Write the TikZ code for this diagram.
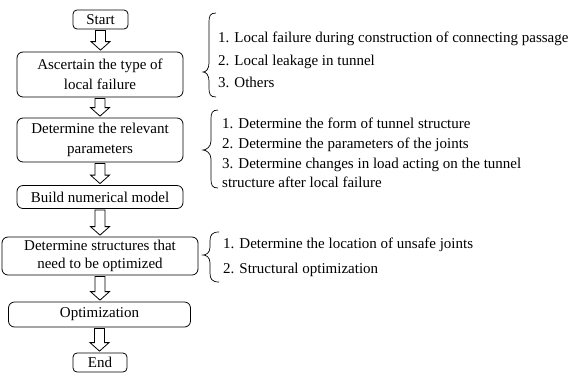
\documentclass[tikz,border=0pt]{standalone}
\usepackage{fontspec}
\setmainfont{Liberation Serif}
\usetikzlibrary{calc}
\tikzset{
  box/.style={draw, line width=0.8pt, rounded corners=6pt, align=center, inner sep=0pt,
    font=\fontsize{15}{20}\selectfont},
  smallbox/.style={box, rounded corners=4pt},
  item/.style={anchor=base west, inner sep=0pt, font=\fontsize{15}{18}\selectfont},
  bracepath/.style={line width=0.7pt},
  blockarrow/.style={to path={
    let \p1=(\tikztostart), \p2=(\tikztotarget) in
    ({\x1-5pt},{\y1-1pt}) -- ({\x1-5pt},{\y2+10pt}) -- ({\x1-9.5pt},{\y2+10pt}) -- ({\x1},{\y2+1.5pt})
    -- ({\x1+9.5pt},{\y2+10pt}) -- ({\x1+5pt},{\y2+10pt}) -- ({\x1+5pt},{\y1-1pt}) -- cycle}},
  hollow/.style={draw, line width=0.8pt, line join=miter}
}
\begin{document}
\begin{tikzpicture}[x=1pt,y=-1pt]
\useasboundingbox (0,0) rectangle (577,376);
% boxes
\node[smallbox, minimum width=55pt, minimum height=19pt] (start) at (100.5,19.5) {Start};
\node[box, minimum width=166pt, minimum height=45pt] (asc) at (100,74.5) {Ascertain the type of\\local failure};
\node[box, minimum width=166pt, minimum height=44pt] (param) at (100,140) {Determine the relevant\\parameters};
\node[box, minimum width=166pt, minimum height=23pt] (build) at (100,197) {Build numerical model};
\node[box, minimum width=196pt, minimum height=38pt, font=\fontsize{15}{18}\selectfont] (struct) at (100,256) {Determine structures that\\need to be optimized};
\node[box, minimum width=182pt, minimum height=25pt] (opt) at (99.5,314.5) {Optimization};
\node[smallbox, minimum width=54pt, minimum height=19pt] (end) at (100,362.5) {End};
% hollow arrows
\draw[hollow] (start.south) to[blockarrow] (asc.north);
\draw[hollow] (asc.south) to[blockarrow] (param.north);
\draw[hollow] (param.south) to[blockarrow] (build.north);
\draw[hollow] (build.south) to[blockarrow] (struct.north);
\draw[hollow] (struct.south) to[blockarrow] (opt.north);
\draw[hollow] (opt.south) to[blockarrow] (end.north);
% brace 1
\draw[bracepath] (216,13) .. controls (210,13) and (209,16) .. (209,22) -- (209,63)
  .. controls (209,69) and (206,72) .. (203,72) .. controls (206,72) and (209,75) .. (209,81)
  -- (209,88) .. controls (209,94) and (210,97) .. (216,97);
\node[item] (a1) at (218,42) {1. Local failure during construction of connecting passage};
\node[item] (a2) at (218,65) {2. Local leakage in tunnel};
\node[item] (a3) at (218,87) {3. Others};
% brace 2
\draw[bracepath] (218,110) .. controls (212,110) and (211,113) .. (211,119) -- (211,141)
  .. controls (211,147) and (206,150) .. (203,150) .. controls (206,150) and (211,153) .. (211,159)
  -- (211,179) .. controls (211,185) and (212,188) .. (218,188);
\node[item] (b1) at (222,128) {1. Determine the form of tunnel structure};
\node[item] (b2) at (222,148) {2. Determine the parameters of the joints};
\node[item] (b3) at (222,168) {3. Determine changes in load acting on the tunnel};
\node[item] (b4) at (222,187) {structure after local failure};
% brace 3
\draw[bracepath] (219,232) .. controls (212,232) and (210,235) .. (210,241) -- (210,247)
  .. controls (210,253) and (206,255) .. (203,255) .. controls (206,255) and (210,257) .. (210,263)
  -- (210,273) .. controls (210,279) and (212,282) .. (219,282);
\node[item] (c1) at (223,248) {1. Determine the location of unsafe joints};
\node[item] (c2) at (223,273) {2. Structural optimization};
\end{tikzpicture}
\end{document}
